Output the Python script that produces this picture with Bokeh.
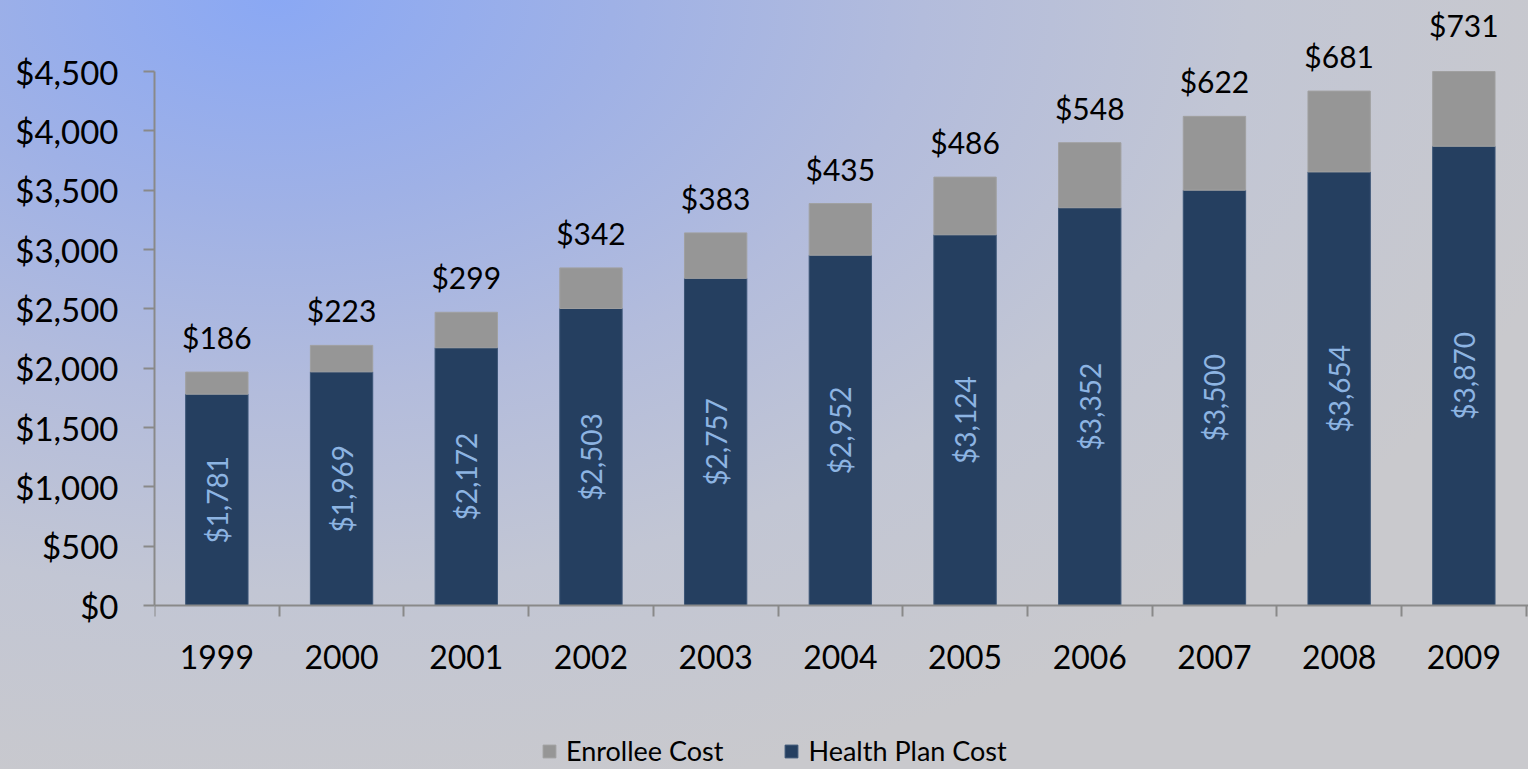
import math
from bokeh.plotting import figure
from bokeh.models import (ColumnDataSource, LabelSet, FixedTicker, NumeralTickFormatter,
                          Legend, LegendItem, Range1d)
from bokeh.core.properties import value
from bokeh.embed import file_html
from bokeh.resources import INLINE

years = ["1999", "2000", "2001", "2002", "2003", "2004", "2005", "2006", "2007", "2008", "2009"]
health_plan = [1781, 1969, 2172, 2503, 2757, 2952, 3124, 3352, 3500, 3654, 3870]
enrollee = [186, 223, 299, 342, 383, 435, 486, 548, 622, 681, 731]
y_ticks = [0, 500, 1000, 1500, 2000, 2500, 3000, 3500, 4000, 4500]
axis_max = 4500

NAVY = "#253F60"
GREY = "#969696"
AXIS = "#898989"
FONT = "Lato"

xs = list(range(len(years)))
total = [h + e for h, e in zip(health_plan, enrollee)]
src = ColumnDataSource(dict(
    x=xs,
    hp=health_plan,
    en=enrollee,
    total=total,
    top_shown=[min(t, axis_max) for t in total],   # value axis stops at its maximum
    hp_mid=[h / 2 for h in health_plan],
    hp_lbl=["${:,}".format(v) for v in health_plan],
    en_lbl=["${:,}".format(v) for v in enrollee],
))

W, H = 1528, 769
LEFT = 154
ZERO_Y = 605          # pixel row of the value 0
px_per_unit = 534 / axis_max
y_end = ZERO_Y / px_per_unit
y_start = -(H - ZERO_Y) / px_per_unit
x_end = -0.5 + (W - LEFT) / 124.7

p = figure(width=W, height=H, output_backend="svg", toolbar_location=None,
           x_range=Range1d(-0.5, x_end), y_range=Range1d(y_start, y_end),
           min_border_left=LEFT, min_border_right=0, min_border_top=0, min_border_bottom=0)
p.styles = {"background": "radial-gradient(ellipse 1350px 820px at 18% 0%, #8aa8f4 0%, #9fb1e6 25%, #b3bcdc 48%, #c2c6d4 72%, #c9c9cd 100%)"}
p.border_fill_color = None
p.background_fill_color = None
p.outline_line_color = None
p.grid.visible = False

r_hp = p.vbar(x="x", bottom=0, top="hp", width=0.5, source=src,
              fill_color=NAVY, line_color="#3b5576", line_width=1)
r_en = p.vbar(x="x", bottom="hp", top="top_shown", width=0.5, source=src,
              fill_color=GREY, line_color="#a0a0a0", line_width=1)

# y axis
p.yaxis.ticker = FixedTicker(ticks=y_ticks)
p.yaxis.formatter = NumeralTickFormatter(format="$0,0")
p.yaxis.bounds = (0, axis_max)
p.yaxis.axis_line_color = AXIS
p.yaxis.axis_line_width = 2
p.yaxis.major_tick_line_color = AXIS
p.yaxis.major_tick_line_width = 2
p.yaxis.major_tick_out = 11
p.yaxis.major_tick_in = 0
p.yaxis.minor_tick_line_color = None
p.yaxis.major_label_standoff = 25
p.yaxis.major_label_text_font = FONT
p.yaxis.major_label_text_font_size = "33px"
p.yaxis.major_label_text_color = "black"

# x axis, drawn at the value 0
p.xaxis.fixed_location = 0
p.xaxis.ticker = FixedTicker(ticks=xs, minor_ticks=[i - 0.5 for i in range(len(years) + 1)])
p.xaxis.major_label_overrides = {i: y for i, y in zip(xs, years)}
p.xaxis.axis_line_color = AXIS
p.xaxis.axis_line_width = 2
p.xaxis.major_tick_line_color = None
p.xaxis.major_tick_out = 0
p.xaxis.major_tick_in = 0
p.xaxis.minor_tick_line_color = AXIS
p.xaxis.minor_tick_line_width = 2
p.xaxis.minor_tick_out = 11
p.xaxis.minor_tick_in = 0
p.xaxis.major_label_standoff = 28
p.xaxis.major_label_text_font = FONT
p.xaxis.major_label_text_font_size = "32px"
p.xaxis.major_label_text_color = "black"

# labels
en_labels = LabelSet(x="x", y="total", text="en_lbl", source=src, y_offset=35,
                     text_align="center", text_baseline="middle",
                     text_font=value(FONT), text_font_size="30px", text_color="black")
hp_labels = LabelSet(x="x", y="hp_mid", text="hp_lbl", source=src, angle=math.pi / 2,
                     text_align="center", text_baseline="middle",
                     text_font=value(FONT), text_font_size="28px", text_color="#8DB4E2")
p.add_layout(en_labels)
p.add_layout(hp_labels)

legend = Legend(items=[LegendItem(label="Enrollee Cost", renderers=[r_en]),
                       LegendItem(label="Health Plan Cost", renderers=[r_hp])],
                orientation="horizontal", location=(387, 2),
                glyph_width=16, glyph_height=16, label_standoff=9, spacing=60,
                padding=0, margin=0, background_fill_color=None, border_line_color=None,
                label_text_font=FONT, label_text_font_size="27px", label_text_color="black")
p.add_layout(legend, "center")

open("out.html", "w").write(file_html(p, INLINE))
